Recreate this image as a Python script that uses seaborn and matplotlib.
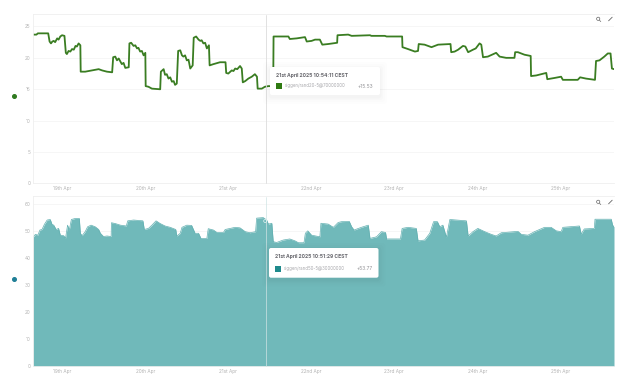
import pandas as pd
import seaborn as sns
import matplotlib.pyplot as plt
from matplotlib.patches import Circle, FancyBboxPatch, Rectangle
from matplotlib.lines import Line2D

sns.set_theme(style="white")
plt.rcParams['font.family'] = ['Inter', 'DejaVu Sans']

# === Data (hours after 19 Apr 00:00) ===
top_hours = [
    -8.5, -7.5, -7.1, -4.1, -3.7, -3.3, -2.9, -2.5, -2.1, -1.5, -1.1, -0.6, -0.1, 0.6, 1.0, 1.3, 1.8, 2.3, 2.8, 3.3,
    3.8, 4.2, 4.7, 5.2, 5.3, 6.6, 8.6, 10.5, 11.5, 12.9, 14.4, 14.7, 15.3, 15.8, 16.3, 16.8, 17.2, 17.7, 18.2, 19.2,
    19.4, 19.9, 20.6, 21.1, 21.6, 22.0, 22.5, 23.0, 23.5, 24.0, 24.1, 24.9, 25.9, 28.3, 28.5, 29.3, 29.7, 30.2, 30.7,
    31.2, 31.7, 32.2, 32.6, 33.1, 33.5, 34.1, 34.6, 35.0, 35.5, 36.0, 36.5, 37.0, 37.7, 38.0, 38.7, 39.4, 39.9, 40.3,
    40.8, 41.3, 41.8, 42.4, 42.6, 43.7, 45.6, 47.2, 47.4, 48.0, 49.0, 49.5, 50.0, 50.6, 51.4, 51.9, 52.2, 52.9, 53.8,
    54.8, 55.7, 56.3, 56.5, 57.7, 58.6, 59.6, 61.0, 61.1, 65.4, 65.8, 67.8, 70.2, 70.7, 72.1, 73.1, 74.5, 75.2, 76.9,
    79.5, 79.6, 82.7, 83.7, 89.0, 89.4, 93.3, 93.8, 98.3, 98.4, 100.0, 102.0, 102.9, 103.1, 104.8, 106.8, 108.7, 112.3,
    112.5, 113.5, 114.5, 115.9, 116.6, 117.4, 118.8, 119.6, 120.7, 121.2, 121.7, 123.1, 125.5, 126.5, 128.4, 130.8,
    131.0, 131.8, 133.7, 135.5, 135.6, 137.1, 140.0, 140.3, 142.4, 144.3, 144.8, 149.1, 149.8, 151.5, 154.1, 154.4,
    155.4, 156.8, 157.8, 158.6, 159.0, 159.6,
]
top_values = [
    23.7, 23.7, 23.9, 23.9, 22.6, 22.3, 22.6, 22.7, 22.5, 23.1, 22.9, 23.4, 23.6, 23.5, 20.8, 20.6, 21.1, 21.0, 21.4, 21.3,
    21.9, 21.8, 22.3, 22.0, 17.8, 17.8, 18.0, 18.2, 18.0, 17.8, 17.7, 20.1, 20.2, 19.6, 19.9, 19.4, 19.0, 19.2, 18.4, 18.5,
    22.3, 22.4, 21.9, 22.0, 21.5, 21.6, 21.0, 21.1, 20.4, 20.8, 15.5, 15.4, 15.1, 15.0, 17.8, 18.2, 17.3, 17.4, 16.7,
    16.9, 16.2, 16.3, 15.7, 15.9, 21.1, 21.2, 20.4, 20.2, 20.4, 19.6, 19.7, 18.3, 18.8, 23.2, 23.4, 22.9, 22.7, 22.8,
    22.3, 22.4, 21.5, 22.0, 18.8, 19.0, 19.3, 19.3, 17.6, 17.5, 18.0, 17.9, 18.3, 18.2, 18.7, 18.3, 16.1, 16.3, 16.7,
    17.0, 17.4, 17.0, 15.1, 15.1, 15.4, 15.5, 15.5, 23.4, 23.4, 23.0, 23.1, 23.3, 22.6, 22.7, 22.9, 22.9, 22.1, 22.2,
    22.4, 23.6, 23.7, 23.5, 23.6, 23.5, 23.5, 23.4, 23.4, 21.7, 21.4, 21.0, 21.1, 22.2, 22.1, 21.7, 22.1, 22.2,
    20.9, 21.0, 21.3, 21.9, 21.8, 20.9, 21.3, 21.5, 22.3, 22.1, 20.1, 20.2, 20.8, 20.2, 20.0, 20.0,
    20.9, 20.9, 20.5, 20.3, 17.1, 17.2, 17.6, 16.6, 16.8, 17.0, 16.5, 16.5, 16.9, 16.7, 16.5, 19.5,
    19.6, 20.2, 20.7, 20.7, 18.3, 18.2,
]
bottom_hours = [
    -8.5, -7.8, -7.1, -6.5, -5.9, -5.2, -4.4, -3.5, -3.0, -2.5, -1.8, -1.1, -0.6, 0.4, 0.9, 1.5, 2.0, 2.6, 3.8, 4.9,
    5.2, 5.7, 6.6, 7.3, 8.3, 9.5, 10.5, 11.0, 11.9, 12.9, 14.1, 14.2, 15.3, 16.8, 18.5, 18.9, 20.6, 23.3, 23.7, 24.9,
    25.9, 27.1, 28.3, 29.7, 31.2, 32.8, 33.1, 34.1, 34.6, 36.0, 37.4, 38.4, 39.4, 40.1, 41.8, 42.2, 43.7, 44.7, 46.6,
    47.1, 48.5, 50.0, 51.4, 52.9, 54.3, 55.9, 56.2, 58.1, 59.1, 59.6, 60.6, 61.0, 62.0, 63.9, 65.8, 67.3, 68.3, 69.9,
    70.3, 71.0, 72.1, 74.5, 74.8, 76.9, 78.4, 79.8, 80.8, 83.0, 83.7, 84.4, 86.5, 88.5, 89.0, 90.9, 92.3, 93.5, 93.8,
    97.8, 98.3, 100.0, 102.4, 102.9, 104.8, 106.3, 107.4, 108.5, 109.2, 110.1, 111.1, 112.1, 116.9, 117.4, 118.8,
    120.2, 122.2, 124.1, 125.5, 127.0, 131.8, 132.8, 134.7, 136.6, 139.5, 141.4, 142.9, 144.3, 144.8, 149.6, 150.1,
    151.0, 153.9, 154.1, 158.8, 159.2, 159.6,
]
bottom_values = [
    47.7, 48.8, 48.5, 50.4, 50.6, 52.5, 54.1, 54.3, 52.5, 52.2, 50.6, 51.0, 48.5, 48.3, 47.3, 52.2, 50.4, 54.3, 54.7, 54.7,
    49.2, 48.3, 49.8, 51.6, 52.2, 51.6, 50.6, 49.2, 48.0, 48.2, 48.0, 53.1, 52.8, 52.2, 51.9, 53.8, 54.1, 53.8, 50.6, 51.0,
    52.2, 53.8, 52.8, 51.9, 51.4, 50.6, 48.2, 49.2, 51.4, 52.2, 52.1, 49.2, 49.2, 47.3, 47.3, 50.9, 50.4, 49.5, 49.5,
    50.6, 51.0, 51.4, 51.2, 49.8, 49.4, 49.8, 54.8, 55.0, 54.1, 52.6, 52.9, 46.1, 45.8, 46.7, 47.1, 46.4, 45.7, 45.7,
    49.2, 50.1, 48.5, 47.9, 52.9, 52.6, 51.4, 53.2, 53.5, 53.6, 51.6, 50.4, 51.4, 52.2, 47.3, 47.9, 49.8, 49.5, 47.1,
    47.1, 51.0, 51.4, 51.0, 46.4, 46.7, 49.2, 53.5, 53.5, 51.6, 52.2, 47.7, 54.3, 53.8, 48.2, 49.8,
    51.0, 49.8, 48.8, 48.2, 49.4, 49.9, 48.8, 48.5, 49.8, 51.4, 51.4, 50.1, 49.8, 51.4, 51.9, 48.9,
    50.8, 51.0, 54.4, 54.4, 52.2, 51.6,
]
tick_days = ["2025-04-19", "2025-04-20", "2025-04-21", "2025-04-22", "2025-04-23", "2025-04-24", "2025-04-25"]
tick_names = ["19th Apr", "20th Apr", "21st Apr", "22nd Apr", "23rd Apr", "24th Apr", "25th Apr"]
top_yticks = [0, 5, 10, 15, 20, 25]
bottom_yticks = [0, 10, 20, 30, 40, 50, 60]

GREEN = "#3a7d22"
TEAL = "#70b9ba"
start = pd.Timestamp("2025-04-19")
top_df = pd.DataFrame({"time": start + pd.to_timedelta(top_hours, unit="h"), "value": top_values})
bottom_df = pd.DataFrame({"time": start + pd.to_timedelta(bottom_hours, unit="h"), "value": bottom_values})

W, H = 635, 376
fig = plt.figure(figsize=(W / 100, H / 100), dpi=100)


def px_axes(x0, y0, x1, y1):
    return fig.add_axes([x0 / W, 1 - y1 / H, (x1 - x0) / W, (y1 - y0) / H])


def fx(x):
    return x / W


def fy(y):
    return 1 - y / H


ax_top = px_axes(33, 14.5, 614, 183.5)
ax_bot = px_axes(33, 196.5, 614, 366.3)

sns.lineplot(data=top_df, x="time", y="value", ax=ax_top, color=GREEN, lw=1.3,
             errorbar=None, estimator=None)
sns.lineplot(data=bottom_df, x="time", y="value", ax=ax_bot, color="#62b0b1", lw=0.5,
             errorbar=None, estimator=None)
ax_bot.fill_between(bottom_df["time"], bottom_df["value"], color=TEAL, lw=0)

ax_top.set_ylim(0, 26.9)
ax_bot.set_ylim(0, 62.8)

# === axes styling ===
for ax, yticks in [(ax_top, top_yticks), (ax_bot, bottom_yticks)]:
    ax.set_xlim(start + pd.Timedelta(hours=-8.5), start + pd.Timedelta(hours=159.6))
    ax.set_xticks(pd.to_datetime(tick_days))
    ax.set_xticklabels(tick_names)
    ax.set_yticks(yticks)
    ax.set_xlabel("")
    ax.set_ylabel("")
    ax.tick_params(axis="both", labelsize=3.4, labelcolor="#b4b4b4", length=0, pad=1.8)
    ax.grid(axis="y", color="#f5f5f5", lw=0.6)
    ax.set_axisbelow(True)
    for side in ["top", "left", "bottom"]:
        ax.spines[side].set_color("#efefef")
        ax.spines[side].set_linewidth(0.6)
    ax.spines["right"].set_visible(False)

# === crosshairs ===
fig.add_artist(Line2D([fx(266.3)] * 2, [fy(14.5), fy(183.5)], color="#dcdcdc", lw=0.6, zorder=4))
fig.add_artist(Line2D([fx(265.5)] * 2, [fy(196.5), fy(366.3)], color="#cfe4e4", lw=0.5, zorder=4))
fig.add_artist(Circle((265.2, H - 221), 1.5, transform=None, fc="none", ec="#e8f4f4", lw=0.5, zorder=4))

# === side dots ===
fig.add_artist(Line2D([fx(14)], [fy(96)], marker="o", ms=2.6, color="#2f7a1f", zorder=4))
fig.add_artist(Line2D([fx(14)], [fy(279)], marker="o", ms=2.6, color="#1f7f96", zorder=4))


def tooltip(x0, y0, x1, y1, title, name, value, color, tx, sy, nx, vx):
    for grow, a in [(7, 0.006), (5, 0.008), (3, 0.011), (1.5, 0.014)]:
        fig.add_artist(FancyBboxPatch((x0 - grow, H - y1 - grow - 2), x1 - x0 + 2 * grow, y1 - y0 + 2 * grow,
                                      boxstyle="round,pad=0,rounding_size=3", transform=None,
                                      fc="black", ec="none", alpha=a, zorder=5))
    fig.add_artist(FancyBboxPatch((x0, H - y1), x1 - x0, y1 - y0, boxstyle="round,pad=0,rounding_size=2",
                                  transform=None, fc="white", ec="none", zorder=6))
    fig.text(fx(tx), fy(y0 + 8.5), title, fontsize=3.6, fontweight="bold", color="#66666c", va="center", zorder=7)
    fig.add_artist(Rectangle((tx, H - sy - 3), 5.5, 6, transform=None, fc=color, ec="none", zorder=7))
    fig.text(fx(nx), fy(sy), name, fontsize=3.1, color="#a8a8ac", va="center", zorder=7)
    fig.text(fx(vx), fy(sy), value, fontsize=3.5, color="#929296", va="center", zorder=7)


tooltip(270, 67, 380, 95, "21st April 2025 10:54:11 CEST", "siggen/rand20-5@70000000", "+15.53",
        "#2f7a12", 276, 86, 285, 358)
tooltip(269, 248, 378.5, 277.7, "21st April 2025 10:51:29 CEST", "siggen/rand50-5@30000000", "+53.77",
        "#1f8a8c", 275, 268.5, 284, 357)

# === toolbar icons ===
for y in [19, 202]:
    fig.add_artist(Circle((598.2, H - y + 0.2), 1.6, transform=None, fc="none", ec="#666666", lw=0.5, zorder=7))
    fig.add_artist(Line2D([fx(599.5), fx(600.8)], [fy(y + 1.3), fy(y + 2.6)], color="#666666", lw=0.5, zorder=7))
    fig.add_artist(Line2D([fx(608.6), fx(612.2)], [fy(y + 1.8), fy(y - 1.8)], color="#666666", lw=0.6, zorder=7))

plt.savefig("out.png", dpi=100)
